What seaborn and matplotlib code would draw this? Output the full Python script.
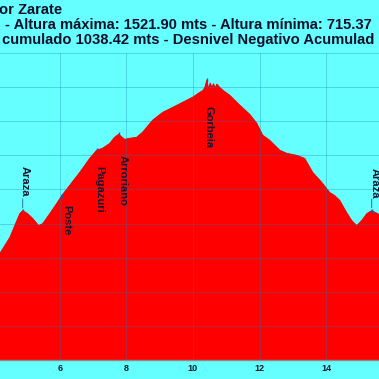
import numpy as np
import pandas as pd
import matplotlib
matplotlib.use("Agg")
import matplotlib.pyplot as plt
import seaborn as sns

# profile (km, metres)
km = [4.10, 4.20, 4.50, 4.80, 4.89, 5.04, 5.19, 5.37, 5.49, 5.70, 5.91, 6.06, 6.30,
      6.60, 6.90, 7.11, 7.29, 7.50, 7.65, 7.77, 7.95, 8.10, 8.31, 8.49, 8.79, 9.09,
      9.40, 9.70, 10.00, 10.21, 10.30, 10.36, 10.42, 10.47, 10.52, 10.57, 10.62, 10.67,
      10.72, 10.80, 10.90, 11.11, 11.41, 11.71, 11.92, 12.10, 12.31, 12.61, 12.82,
      13.12, 13.36, 13.60, 13.87, 14.11, 14.26, 14.41, 14.62, 14.77, 14.92, 15.07,
      15.22, 15.37, 15.55, 15.70]
alt = [995, 1012, 1059, 1129, 1138, 1129, 1115, 1094, 1100, 1129, 1159, 1182, 1212,
       1250, 1291, 1315, 1321, 1335, 1353, 1362, 1347, 1350, 1353, 1368, 1403, 1426,
       1441, 1456, 1471, 1485, 1490, 1500, 1521, 1496, 1512, 1500, 1510, 1498,
       1509, 1500, 1491, 1476, 1447, 1420, 1394, 1359, 1344, 1315, 1306,
       1300, 1291, 1250, 1221, 1191, 1182, 1168, 1132, 1109, 1094, 1109,
       1129, 1138, 1129, 1120]

# x ticks every 2 km; only 6..14 fall inside the picture
tick_km = [0, 2, 4, 6, 8, 10, 12, 14, 16, 18, 20]
tick_labels = ["", "", "", "6", "8", "10", "12", "14", "", "", ""]

# waypoints: name, km, altitude, offset in points (label centre)
wp_names = ["Araza", "Poste", "Pagazuri", "Arroriano", "Gorbeia", "Araza"]
wp_km = [4.89, 6.06, 7.11, 7.77, 10.42, 15.37]
wp_alt = [1138, 1182, 1315, 1362, 1521, 1138]
wp_dy = [21, -18, -28, -33, -34, 20]
wp_dx = [1.5, 3, 2, 3, 1, 2]

title_1 = "or Zarate"
title_2 = "- Altura máxima: 1521.90 mts - Altura mínima: 715.37"
title_3 = "cumulado 1038.42 mts - Desnivel Negativo Acumulad"

df = pd.DataFrame({"km": km, "alt": alt})

sns.set_theme(style="white")
plt.rcParams["font.family"] = ["Liberation Sans", "DejaVu Sans"]

fig = plt.figure(figsize=(3.79, 3.79), dpi=100)
fig.patch.set_facecolor("#66ffff")
W = 379
# axes wider than the picture: only the middle of the profile shows
px_per_km = 33.3
left_px = 59.7 - 6 * px_per_km
ax = fig.add_axes([left_px / W, 1 - 360 / W, 20 * px_per_km / W, (360 - 53) / W])
ax.set_facecolor("#66ffff")

ax.fill_between(df["km"], 700, df["alt"], color="#ff0000", lw=0, zorder=1)
sns.lineplot(data=df, x="km", y="alt", color="#ee0000", lw=0.6, ax=ax, zorder=2)

ax.set_xlim(0, 20)
ax.set_ylim(700, 1600)
ax.set_xticks(tick_km)
ax.set_xticklabels(tick_labels)
ax.set_yticks(np.arange(700, 1601, 100))
ax.grid(True, color="#0a80b0", alpha=0.32, lw=0.7, zorder=3)
ax.set_axisbelow(False)
ax.set_xlabel("")
ax.set_ylabel("")
ax.tick_params(axis="x", labelsize=6.5, colors="#1a1a2a", length=0, pad=3)
for lab in ax.get_xticklabels():
    lab.set_fontweight("bold")
ax.tick_params(axis="y", labelleft=False, length=0)
for s in ["left", "right", "top"]:
    ax.spines[s].set_visible(False)
ax.spines["bottom"].set_color("#8a8a8a")
ax.spines["bottom"].set_linewidth(1.0)

for name, x, y, dx, dy in zip(wp_names, wp_km, wp_alt, wp_dx, wp_dy):
    ax.annotate(name, (x, y), xytext=(dx, dy), textcoords="offset points",
                rotation=270, ha="center", va="center", fontsize=8,
                fontweight="bold", color="#151530", zorder=5)
    if dy > 0:
        ax.annotate("", (x, y), xytext=(x, y + 42), zorder=4,
                    arrowprops=dict(arrowstyle="-", color="#2a5a90", lw=0.6))
    ax.plot([x], [y], marker="|", ms=3, color="#3050a0", zorder=4)

kw = dict(fontsize=10.6, fontweight="bold", color="#10102a", va="baseline", ha="left")
fig.text(-1 / W, 1 - 14 / W, title_1, **kw)
fig.text(5 / W, 1 - 29.3 / W, title_2, **kw)
fig.text(2 / W, 1 - 44 / W, title_3, **kw)

fig.savefig("out.png", dpi=100, facecolor=fig.get_facecolor())
